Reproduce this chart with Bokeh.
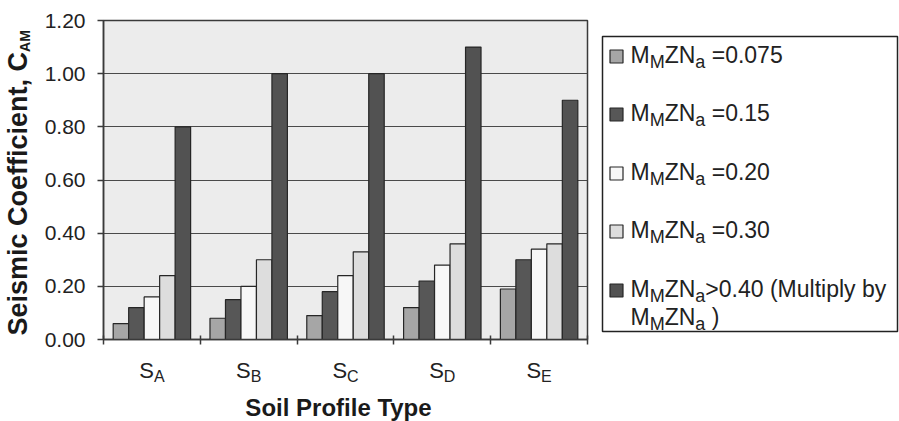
import math
from bokeh.plotting import figure
from bokeh.models import Range1d, FixedTicker, PrintfTickFormatter, ColumnDataSource
from bokeh.layouts import gridplot
from bokeh.embed import file_html
from bokeh.resources import INLINE
from bokeh.core.properties import value

# ---------------- data ----------------
categories = ["A", "B", "C", "D", "E"]          # soil profile types S_A ... S_E
s_0075 = [0.06, 0.08, 0.09, 0.12, 0.19]
s_015 = [0.12, 0.15, 0.18, 0.22, 0.30]
s_020 = [0.16, 0.20, 0.24, 0.28, 0.34]
s_030 = [0.24, 0.30, 0.33, 0.36, 0.36]
s_040 = [0.80, 1.00, 1.00, 1.10, 0.90]
series_values = [s_0075, s_015, s_020, s_030, s_040]
legend_values = ["=0.075", "=0.15", "=0.20", "=0.30", ">0.40 (Multiply by"]
y_ticks = [0.0, 0.2, 0.4, 0.6, 0.8, 1.0, 1.2]

# ---------------- styles / layout ----------------
colors = ["#a6a6a6", "#575757", "#f7f7f7", "#dddddd", "#525252"]
FONT = "Liberation Sans"
TXT = "#222222"
TOTAL_W, TOTAL_H = 899, 421
LEFT_W = 40            # panel holding the y title
MAIN_W = 550           # main plot (x 40..590)
LEG_W = TOTAL_W - LEFT_W - MAIN_W
MAIN_H = 350
BOT_H = TOTAL_H - MAIN_H
FT, FB = 20, 339       # frame top / bottom (page pixels)
FL_IN, FR_IN = 63, 3   # main frame borders inside main plot
NCAT = len(categories)
YMAX = 1.2
MID = 0.35             # em fraction between alphabetic baseline and text middle

REG = {' ': 278, '(': 333, ')': 333, '.': 278, '=': 584, '>': 584, 'A': 667, 'B': 667,
       'C': 722, 'D': 722, 'E': 667, 'M': 833, 'N': 722, 'S': 667, 'Z': 611, 'a': 556,
       'b': 556, 'i': 222, 'l': 222, 'p': 556, 't': 278, 'u': 556, 'y': 500}
for d in "0123456789":
    REG[d] = 556
BOLD = {'S': 667, 'e': 556, 'i': 278, 's': 556, 'm': 889, 'c': 556, ' ': 278, 'C': 722,
        'o': 611, 'f': 333, 'n': 611, 't': 333, ',': 278, 'A': 722, 'M': 833}


def tw(s, size, bold=False):
    tab = BOLD if bold else REG
    return sum(tab.get(ch, 556) for ch in s) / 1000.0 * size


def panel(w, h, xr, yr, **kw):
    f = figure(width=w, height=h, x_range=xr, y_range=yr, output_backend="svg",
               toolbar_location=None, x_axis_type=None, y_axis_type=None, **kw)
    f.outline_line_color = None
    f.xgrid.grid_line_color = None
    f.ygrid.grid_line_color = None
    f.background_fill_color = "white"
    f.border_fill_color = "white"
    return f


# ---------------- main plot ----------------
p = figure(width=MAIN_W, height=MAIN_H, x_range=Range1d(0, NCAT), y_range=Range1d(0, YMAX),
           output_backend="svg", toolbar_location=None,
           min_border_left=FL_IN, min_border_right=FR_IN,
           min_border_top=FT, min_border_bottom=MAIN_H - FB)
p.background_fill_color = "#ececec"
p.border_fill_color = "white"
p.outline_line_color = "#3a3a3a"
p.outline_line_width = 1.5

bw = 0.16
offsets = [-0.32, -0.16, 0.0, 0.16, 0.32]
for k, vals in enumerate(series_values):
    xs = [i + 0.5 + offsets[k] for i in range(NCAT)]
    p.vbar(x=xs, top=vals, bottom=0, width=bw, fill_color=colors[k],
           line_color="#262626", line_width=1.2)

p.yaxis.ticker = FixedTicker(ticks=y_ticks)
p.yaxis.formatter = PrintfTickFormatter(format="%.2f")
p.yaxis.major_label_text_font = FONT
p.yaxis.major_label_text_font_size = "21px"
p.yaxis.major_label_text_color = TXT
p.yaxis.major_label_standoff = 12
p.yaxis.major_tick_out = 6
p.yaxis.major_tick_in = 0
p.yaxis.minor_tick_line_color = None
p.yaxis.axis_line_color = "#3a3a3a"
p.yaxis.axis_line_width = 1.5
p.yaxis.major_tick_line_color = "#3a3a3a"
p.yaxis.major_tick_line_width = 1.5

x_ticks = list(range(NCAT + 1))
p.xaxis.ticker = FixedTicker(ticks=x_ticks)
p.xaxis.major_label_overrides = {t: "" for t in x_ticks}
p.xaxis.major_label_standoff = 0
p.xaxis.major_tick_in = 4
p.xaxis.major_tick_out = 5
p.xaxis.minor_tick_line_color = None
p.xaxis.axis_line_color = "#3a3a3a"
p.xaxis.axis_line_width = 1.5
p.xaxis.major_tick_line_color = "#3a3a3a"
p.xaxis.major_tick_line_width = 1.5

p.xgrid.grid_line_color = None
p.ygrid.ticker = FixedTicker(ticks=y_ticks)
p.ygrid.grid_line_color = "#4a4a4a"
p.ygrid.grid_line_width = 1.2

# ---------------- left panel: y title ----------------
left = panel(LEFT_W, MAIN_H, Range1d(0, LEFT_W), Range1d(FB, FT),
             min_border_left=0, min_border_right=0,
             min_border_top=FT, min_border_bottom=MAIN_H - FB)
YT_SIZE, YT_SUB = 27, 14
main_t = "Seismic Coefficient, C"
y_start = 335
left.text(x=[27 - MID * YT_SIZE], y=[y_start], text=[main_t], angle=math.pi / 2,
          text_font=value(FONT), text_font_size=f"{YT_SIZE}px", text_font_style="bold",
          text_color="#1a1a1a", text_align="left", text_baseline="middle")
left.text(x=[29 - MID * YT_SUB], y=[y_start - tw(main_t, YT_SIZE, True)], text=["AM"],
          angle=math.pi / 2, text_font=value(FONT), text_font_size=f"{YT_SUB}px",
          text_font_style="bold", text_color="#1a1a1a", text_align="left",
          text_baseline="middle")

# ---------------- bottom panel: category labels + x title ----------------
bottom = panel(MAIN_W, BOT_H, p.x_range, Range1d(TOTAL_H, MAIN_H),
               min_border_left=FL_IN, min_border_right=FR_IN,
               min_border_top=0, min_border_bottom=0)
S_SIZE, SUB_SIZE = 22, 16
cx = [i + 0.5 for i in range(NCAT)]
s_off, sub_off = [], []
for c in categories:
    total = tw("S", S_SIZE) + tw(c, SUB_SIZE)
    s_off.append(-total / 2)
    sub_off.append(-total / 2 + tw("S", S_SIZE))
bottom.text(x="x", y="y", text="t", x_offset="o",
            source=ColumnDataSource(dict(x=cx, y=[378 - MID * S_SIZE] * NCAT,
                                         t=["S"] * NCAT, o=s_off)),
            text_font=value(FONT), text_font_size=f"{S_SIZE}px", text_color=TXT,
            text_align="left", text_baseline="middle")
bottom.text(x="x", y="y", text="t", x_offset="o",
            source=ColumnDataSource(dict(x=cx, y=[382 - MID * SUB_SIZE] * NCAT,
                                         t=categories, o=sub_off)),
            text_font=value(FONT), text_font_size=f"{SUB_SIZE}px", text_color=TXT,
            text_align="left", text_baseline="middle")
bottom.text(x=[NCAT / 2], y=[415 - MID * 24], text=["Soil Profile Type"], x_offset=-7,
            text_font=value(FONT), text_font_size="24px", text_font_style="bold",
            text_color="#1a1a1a", text_align="center", text_baseline="middle")

# ---------------- legend panel ----------------
X0 = LEFT_W + MAIN_W
lg = panel(LEG_W, MAIN_H, Range1d(X0, TOTAL_W), Range1d(FB, FT),
           min_border_left=0, min_border_right=0,
           min_border_top=FT, min_border_bottom=MAIN_H - FB)
lg.quad(left=602, right=897, top=36, bottom=331, fill_color="white",
        line_color="#222222", line_width=1.5)

L_MAIN, L_SUB = 23, 18
baselines = [63, 121, 180, 238, 297]
TX = 630
main_src = {"x": [], "y": [], "t": []}
sub_src = {"x": [], "y": [], "t": []}


def put_line(x, base, tail):
    pieces = [("M", False), ("M", True), ("ZN", False), ("a", True), (tail, False)]
    for s, sub in pieces:
        size = L_SUB if sub else L_MAIN
        lead = len(s) - len(s.lstrip(" "))
        x += tw(" " * lead, size)
        s = s.lstrip(" ")
        d = sub_src if sub else main_src
        d["x"].append(x)
        d["y"].append(base + (5 if sub else 0) - MID * size)
        d["t"].append(s)
        x += tw(s, size)


for k, lab in enumerate(legend_values):
    tail = (" " + lab) if lab.startswith("=") else lab
    put_line(TX, baselines[k], tail)
put_line(TX, baselines[-1] + 28, " )")

lg.rect(x=[616] * len(colors), y=[b - 7 for b in baselines], width=13, height=13,
        fill_color=colors, line_color="#262626", line_width=1.2)
lg.text(x="x", y="y", text="t", source=ColumnDataSource(main_src),
        text_font=value(FONT), text_font_size=f"{L_MAIN}px", text_color=TXT,
        text_baseline="middle", text_align="left")
lg.text(x="x", y="y", text="t", source=ColumnDataSource(sub_src),
        text_font=value(FONT), text_font_size=f"{L_SUB}px", text_color=TXT,
        text_baseline="middle", text_align="left")

layout = gridplot([[left, p, lg], [None, bottom, None]], toolbar_location=None)
open("out.html", "w").write(file_html(layout, INLINE))
